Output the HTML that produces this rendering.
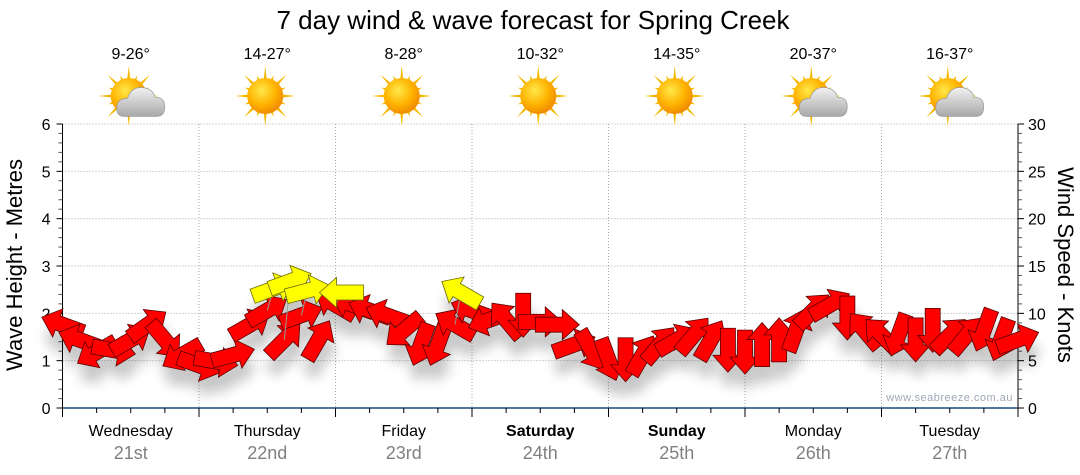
<!DOCTYPE html>
<html><head><meta charset="utf-8">
<style>
html,body{margin:0;padding:0;background:#fff;}
svg{display:block;font-family:"Liberation Sans","DejaVu Sans",sans-serif;}
</style></head>
<body>
<svg id="chart" width="1080" height="475" viewBox="0 0 1080 475" xmlns="http://www.w3.org/2000/svg">
<defs>
<filter id="shadow" x="-50%" y="-50%" width="200%" height="200%">
<feGaussianBlur in="SourceAlpha" stdDeviation="6"/>
<feOffset dx="2" dy="16" result="ob"/>
<feComponentTransfer><feFuncA type="linear" slope="0.22"/></feComponentTransfer>
<feMerge><feMergeNode/><feMergeNode in="SourceGraphic"/></feMerge>
</filter>
<radialGradient id="sunGrad" cx="40%" cy="35%" r="65%">
<stop offset="0" stop-color="#ffe84a"/><stop offset="0.6" stop-color="#ffb300"/><stop offset="1" stop-color="#f08c00"/>
</radialGradient>
<linearGradient id="cloudGrad" x1="0" y1="0" x2="0" y2="1">
<stop offset="0" stop-color="#f2f2f2"/><stop offset="1" stop-color="#a8a8a8"/>
</linearGradient>
</defs>
<text x="533" y="29" font-size="26" text-anchor="middle" fill="#000">7 day wind &amp; wave forecast for Spring Creek</text>
<g id="grid"></g>
<g id="icons"></g>
<g id="axes"></g>
<text x="1013" y="401" font-size="11" text-anchor="end" fill="#a0a8b8" letter-spacing="0.5">www.seabreeze.com.au</text>
<g id="marks" filter="url(#shadow)"></g>
<text transform="translate(22,265) rotate(-90)" font-size="22" text-anchor="middle" fill="#000">Wave Height - Metres</text>
<text transform="translate(1058,265) rotate(90)" font-size="22" text-anchor="middle" fill="#000">Wind Speed - Knots</text>
</svg>
<script>
const days = ["Wednesday","Thursday","Friday","Saturday","Sunday","Monday","Tuesday"];
const dates = ["21st","22nd","23rd","24th","25th","26th","27th"];
const boldDays = [false,false,false,true,true,false,false];
const temps = ["9-26°","14-27°","8-28°","10-32°","14-35°","20-37°","16-37°"];
const cloudy = [true,false,false,false,false,true,true];
const waveTicks = [0,1,2,3,4,5,6];
const windTicks = [0,5,10,15,20,25,30];
// wind speed (knots) every 3 hours
const windSpeed = [8.8,7.2,5.9,6.1,7.2,8.8,7.2,5.6,4.5,4.9,5.6,8.8,10.3,7.2,9.8,7.2,10.9,10.9,10.3,9.8,8.2,6.7,6.7,8.8,10.3,9.3,9.3,9.8,9.1,8.8,6.7,6.1,5.1,5.1,5.6,6.7,7.2,7.7,7.2,6.1,5.9,6.7,7.2,8.2,10.3,10.9,9.5,8.2,7.7,7.7,7.2,8.2,7.7,7.7,8.2,7.2,7.2];
// direction arrow points toward (compass degrees)
const windDir = [290,290,240,100,60,55,140,240,110,100,75,60,60,45,70,30,300,290,290,290,230,200,200,300,290,250,320,180,90,90,70,150,160,180,30,40,60,40,30,180,180,0,0,20,45,60,180,320,315,200,180,180,45,40,200,200,70];
// gust highlight series (yellow)
const gustIndex = [12,13,14,16,23];
const gustSpeed = [12.6,13.4,12.4,12.2,12.2];
const gustDir = [70,70,75,270,300];

const NS="http://www.w3.org/2000/svg";
const X0=62.5, X1=1018, YB=408, YT=124;
const dayW=(X1-X0)/7;
const xT = h => X0 + h/24*dayW;
const yWave = m => YB - m/6*(YB-YT);
const yWind = k => YB - k/30*(YB-YT);
function mk(tag,attrs,parent){const e=document.createElementNS(NS,tag);for(const k in attrs)e.setAttribute(k,attrs[k]);parent.appendChild(e);return e;}
const grid=document.getElementById('grid'), axes=document.getElementById('axes'), icons=document.getElementById('icons'), marks=document.getElementById('marks');

waveTicks.forEach(t=>{ if(t>0){const l=mk('line',{x1:X0,x2:X1,y1:yWave(t),y2:yWave(t),stroke:'#aaa','stroke-dasharray':'1,2'},grid);

}});
for(let d=1;d<7;d++){const l=mk('line',{x1:X0+d*dayW,x2:X0+d*dayW,y1:YT,y2:YB,stroke:'#aaa','stroke-dasharray':'1,2'},grid);

}

mk('line',{x1:X0,x2:X0,y1:YT,y2:YB+6,stroke:'#000'},axes);
mk('line',{x1:X1,x2:X1,y1:YT,y2:YB,stroke:'#000'},axes);
mk('line',{x1:X0,x2:X1,y1:YB,y2:YB,stroke:'#1a4a7a','stroke-width':1.5},axes);
waveTicks.forEach(t=>{
 mk('line',{x1:X0-6,x2:X0,y1:yWave(t),y2:yWave(t),stroke:'#000'},axes);
 const tx=mk('text',{x:X0-12,y:yWave(t)+6,'font-size':16,'text-anchor':'end',fill:'#000'},axes);tx.textContent=t;
 
 
 if(t<6){for(let m=1;m<5;m++){mk('line',{x1:X0-4,x2:X0,y1:yWave(t+m/5),y2:yWave(t+m/5),stroke:'#555'},axes);}}
});
windTicks.forEach(t=>{
 mk('line',{x1:X1,x2:X1+6,y1:yWind(t),y2:yWind(t),stroke:'#000'},axes);
 const tx=mk('text',{x:X1+10,y:yWind(t)+6,'font-size':16,fill:'#000'},axes);tx.textContent=t;
 
 
 if(t<30){for(let m=1;m<5;m++){mk('line',{x1:X1,x2:X1+4,y1:yWind(t+m),y2:yWind(t+m),stroke:'#555'},axes);}}
});
for(let h=0;h<=168;h+=6){const big=h%24===0;mk('line',{x1:xT(h),x2:xT(h),y1:YB,y2:YB+(big?9:5),stroke:'#000'},axes);}
days.forEach((d,i)=>{
 const cx=X0+(i+0.5)*dayW;
 const t1=mk('text',{x:cx,y:436,'font-size':16,'text-anchor':'middle',fill:'#000','font-weight':boldDays[i]?'bold':'normal'},axes);t1.textContent=d;
 
 
 const t2=mk('text',{x:cx,y:459,'font-size':18,'text-anchor':'middle',fill:'#808080'},axes);t2.textContent=dates[i];
 
 
 const t3=mk('text',{x:cx,y:59,'font-size':16,'text-anchor':'middle',fill:'#000'},icons);t3.textContent=temps[i];
 
 
 const g=mk('g',{transform:`translate(${cx-2},96)`},icons);
 
 
 for(let r=0;r<16;r++){const a=r*Math.PI/8, L=(r%2?22:30);
  mk('polygon',{points:`${Math.cos(a-0.1)*16},${Math.sin(a-0.1)*16} ${Math.cos(a)*L},${Math.sin(a)*L} ${Math.cos(a+0.1)*16},${Math.sin(a+0.1)*16}`,fill:'#f5b800'},g);}
 mk('circle',{cx:0,cy:0,r:18,fill:'url(#sunGrad)'},g);
 if(cloudy[i]){
  const c=mk('g',{transform:'translate(12,6) scale(1.2)'},g);
  mk('path',{d:'M-14,12 Q-20,12 -20,5 Q-20,-3 -11,-3 Q-8,-13 2,-12 Q10,-11 12,-4 Q20,-4 20,4 Q20,12 13,12 Z',fill:'url(#cloudGrad)',stroke:'#999','stroke-width':0.6},c);
 }
});

function arrowPts(len,fill,parent,x,y,dir){
 const h=len/2, sw=7.5, hw=15, hl=17;
 const p=`0,${-h} ${hw},${-h+hl} ${sw},${-h+hl} ${sw},${h} ${-sw},${h} ${-sw},${-h+hl} ${-hw},${-h+hl}`;
 return mk('polygon',{points:p,fill:fill,stroke:'#5a0000','stroke-width':0.8,transform:`translate(${x},${y}) rotate(${dir})`},parent);
}
windSpeed.forEach((k,i)=>{
 const a=arrowPts(44,'#ff0000',marks,xT(i*3),yWind(k),windDir[i]);
 
 
});
gustIndex.forEach((idx,j)=>{
 const x=xT(idx*3)+6;
 const ln=mk('line',{x1:x,y1:yWind(gustSpeed[j]),x2:xT(idx*3),y2:yWind(windSpeed[idx]),stroke:'#999'},marks);
 
 
 const a=arrowPts(44,'#ffff00',marks,x,yWind(gustSpeed[j]),gustDir[j]);
 a.setAttribute('stroke','#6a6a00');
 
 
});
</script>
</body></html>
